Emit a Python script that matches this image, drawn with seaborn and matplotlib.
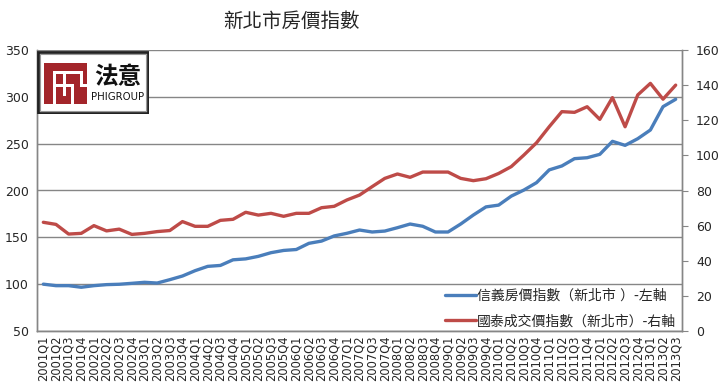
import seaborn as sns
import pandas as pd
import matplotlib.pyplot as plt
from matplotlib.patches import Rectangle

# quarters 2001Q1 .. 2013Q3
quarters = [f"{y}Q{q}" for y in range(2001, 2014) for q in range(1, 5)][:51]

# 信義房價指數 (left axis)
sinyi = [100, 98.4, 98.4, 96.7, 98.4, 99.5, 99.9, 100.9, 102, 101.2, 104.8, 108.7,
         114.4, 119, 120, 126, 127, 129.7, 133.6, 136, 137, 143.6, 146,
         151.5, 154.3, 157.8, 155.7, 156.7, 160.3, 164.2, 161.8, 155.7, 155.7, 164.2,
         173.8, 182.5, 184.4, 194, 200.5, 208.4, 222, 226.2, 234, 235, 238.6,
         252.5, 248.2, 255.3, 264.6, 289.5, 297.4]

# 國泰成交價指數 (right axis)
cathay = [61.9, 60.7, 55.2, 55.6, 60, 57, 58, 55, 55.6, 56.6, 57.2, 62.3,
          59.6, 59.6, 63, 63.6, 67.6, 66, 67, 65.3, 67, 67, 70.2, 71,
          74.6, 77.4, 82.2, 86.9, 89.4, 87.5, 90.5, 90.5, 90.5, 86.9, 85.6, 86.7, 89.7,
          93.6, 100.2, 107.2, 116.3, 124.9, 124.5, 127.7, 120.5, 132.9, 116.3,
          134.4, 141, 132, 140]

label_left = "信義房價指數（新北市 ）-左軸"
label_right = "國泰成交價指數（新北市）-右軸"

df = pd.DataFrame({"quarter": quarters, "sinyi": sinyi, "cathay": cathay})

sns.set_style("white")
plt.rcParams['font.family'] = ['DejaVu Sans', 'Noto Sans CJK TC']

grey = "#868686"
blue = "#4A7EBB"
red = "#BE4B48"

fig = plt.figure(figsize=(7.19, 3.85), dpi=100)
ax = fig.add_axes([37/719, 54/385, 645/719, 281/385])
ax2 = ax.twinx()

sns.lineplot(data=df, x="quarter", y="sinyi", ax=ax, color=blue, linewidth=2.4,
             sort=False, label=label_left, legend=False)
sns.lineplot(data=df, x="quarter", y="cathay", ax=ax2, color=red, linewidth=2.4,
             sort=False, label=label_right, legend=False)

ax.set_xlim(-0.5, len(quarters) - 0.5)
ax.set_ylim(50, 350)
ax.set_yticks(range(50, 351, 50))
ax2.set_ylim(0, 160)
ax2.set_yticks(range(0, 161, 20))
ax.set_xlabel("")
ax.set_ylabel("")
ax2.set_ylabel("")

ax.grid(axis="y", color=grey, linewidth=1)
ax.set_axisbelow(True)
for a in (ax, ax2):
    for s in a.spines.values():
        s.set_color(grey)
        s.set_linewidth(1)
    a.spines["top"].set_visible(False)
ax.tick_params(axis="x", labelrotation=90, labelsize=8.3, length=0, pad=3)
ax.tick_params(axis="y", labelsize=9, length=0, pad=6)
ax2.tick_params(axis="y", labelsize=9, length=4, color=grey, pad=6, direction="out")

h1, l1 = ax.get_legend_handles_labels()
h2, l2 = ax2.get_legend_handles_labels()
ax2.legend(h1 + h2, l1 + l2, loc="lower right", frameon=False, fontsize=10,
           handlelength=2.2, handletextpad=0.1, labelspacing=0.85,
           borderaxespad=0.0, bbox_to_anchor=(1.0, -0.01))

fig.text(0.405, 0.945, "新北市房價指數", ha="center", va="center", fontsize=14,
         family=['Noto Sans CJK TC'])

# logo
lg = fig.add_axes([37/719, (385-114)/385, 112/719, 63/385])
lg.set_xlim(0, 112)
lg.set_ylim(63, 0)
lg.axis("off")
lg.add_patch(Rectangle((1, 1), 110, 61, facecolor="white", edgecolor="#222222", linewidth=2))
lg.add_patch(Rectangle((3, 3), 106, 57, facecolor="none", edgecolor="#999999", linewidth=0.8))
lg.add_patch(Rectangle((7, 12), 43, 41, facecolor="#A3252A", edgecolor="none"))
for x0, y0, w, h in [(16, 20, 2.5, 33), (16, 20, 29, 2.5), (26, 20, 2.5, 25),
                     (16, 33, 20, 2.5), (34, 33, 2.5, 20), (43, 20, 2.5, 15),
                     (43, 33, 7, 2.5)]:
    lg.add_patch(Rectangle((x0, y0), w, h, facecolor="white", edgecolor="none"))
lg.text(81, 26, "法意", ha="center", va="center", fontsize=17, fontweight="bold",
        family=['Noto Sans CJK TC'], color="#111111")
lg.text(81, 46, "PHIGROUP", ha="center", va="center", fontsize=7.3, color="#111111")

fig.savefig("out.png", dpi=100)
